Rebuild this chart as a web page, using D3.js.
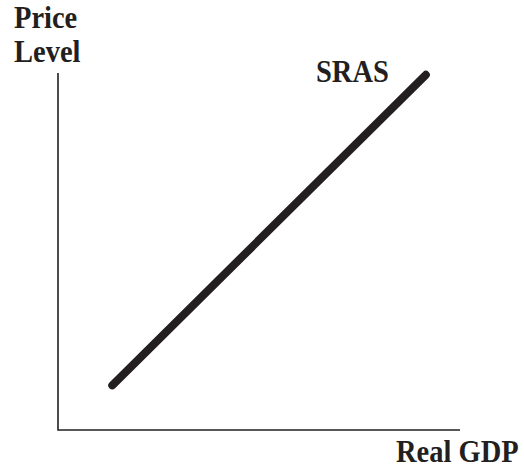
<!DOCTYPE html>
<html><head><meta charset="utf-8">
<script src="https://cdn.jsdelivr.net/npm/d3@7"></script>
<style>body{margin:0;background:#fff}svg{display:block}</style>
</head><body>
<script>
const curveName = "SRAS";
const xLabel = "Real GDP";
const yLabel = ["Price", "Level"];
const sras = [{q: 13.5, p: 12.5}, {q: 91.5, p: 99.5}];

const W = 524, H = 466;
const svg = d3.select("body").append("svg").attr("width", W).attr("height", H);
const x = d3.scaleLinear().domain([0, 100]).range([58, 460]);
const y = d3.scaleLinear().domain([0, 100]).range([430, 73]);
const font = "'Liberation Serif','Times New Roman',serif";

svg.append("path")
  .attr("d", `M${x(0)},${y(100)}V${y(0)}H${x(100)}`)
  .attr("fill", "none").attr("stroke", "#231f20").attr("stroke-width", 1.6);

svg.append("path").datum(sras)
  .attr("d", d3.line().x(d => x(d.q)).y(d => y(d.p)))
  .attr("fill", "none").attr("stroke", "#231f20").attr("stroke-width", 8)
  .attr("stroke-linecap", "round");

const t = svg.append("g").attr("font-family", font).attr("font-weight", "bold")
  .attr("font-size", 28.5).attr("fill", "#231f20");
function label(txt, tx, ty) {
  t.append("text").attr("transform", `translate(${tx},${ty}) scale(1,1.08)`).text(txt);
}
label(yLabel[0], 14, 28);
label(yLabel[1], 14, 62);
label(curveName, 316, 82);
label(xLabel, 396, 462);
</script>
</body></html>
